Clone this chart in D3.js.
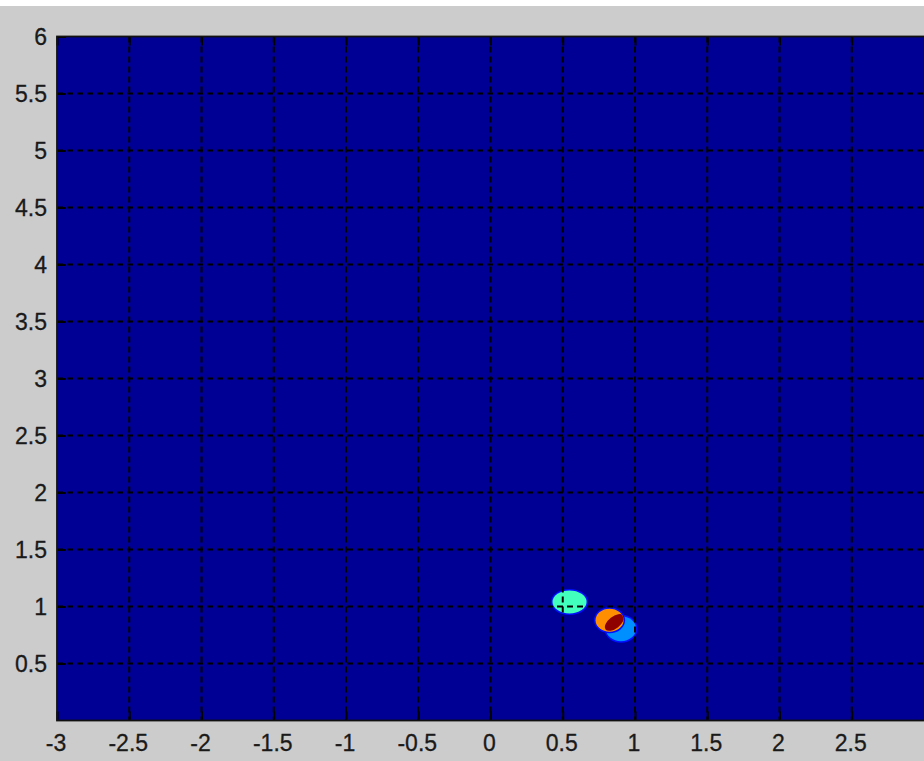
<!DOCTYPE html>
<html>
<head>
<meta charset="utf-8">
<script src="https://cdn.jsdelivr.net/npm/d3@7/dist/d3.min.js"></script>
<style>
  html, body { margin: 0; padding: 0; background: #ffffff; }
  svg { display: block; }
  .tick-label { font-family: "Liberation Sans", Arial, sans-serif; font-size: 23px; fill: #1a1a1a; stroke: #1a1a1a; stroke-width: 0.3px; }
</style>
</head>
<body>
<script>
// Axis limits and tick labels
const xDomain = [-3, 3];
const yDomain = [0, 6];
const xTickValues = [-3, -2.5, -2, -1.5, -1, -0.5, 0, 0.5, 1, 1.5, 2, 2.5];
const yTickValues = [0.5, 1, 1.5, 2, 2.5, 3, 3.5, 4, 4.5, 5, 5.5, 6];
const xGridValues = [-2.5, -2, -1.5, -1, -0.5, 0, 0.5, 1, 1.5, 2, 2.5];
const yGridValues = [0.5, 1, 1.5, 2, 2.5, 3, 3.5, 4, 4.5, 5, 5.5];

// Density blobs: centre, half-widths (data units), tilt and colormap level
const blobX     = [0.547, 0.903, 0.824, 0.858];
const blobY     = [1.040, 0.805, 0.880, 0.860];
const blobRx    = [0.118, 0.104, 0.097, 0.078];
const blobRy    = [0.101, 0.110, 0.101, 0.052];
const blobAngle = [0, 0, 0, -38];
const blobLevel = [0.44, 0.265, 0.735, 0.985];
const backgroundLevel = 0.02;

const W = 924, H = 761;
const margin = { left: 57, top: 36.5, right: 924, bottom: 720.5 };

// MATLAB-style jet colormap
function jet(t) {
  const c = v => Math.max(0, Math.min(1, v));
  const r = c(1.5 - Math.abs(4 * t - 3));
  const g = c(1.5 - Math.abs(4 * t - 2));
  const b = c(1.5 - Math.abs(4 * t - 1));
  return d3.rgb(r * 255, g * 255, b * 255).formatHex();
}

const svg = d3.select("body").append("svg").attr("width", W).attr("height", H);

// figure background
svg.append("rect").attr("width", W).attr("height", H).attr("fill", "#cccccc");
svg.append("rect").attr("width", W).attr("height", 6).attr("fill", "#ffffff");

const x = d3.scaleLinear().domain(xDomain).range([margin.left, margin.right]);
const y = d3.scaleLinear().domain(yDomain).range([margin.bottom, margin.top]);

const plotW = x(xDomain[1]) - x(xDomain[0]);
const plotH = y(yDomain[0]) - y(yDomain[1]);

const defs = svg.append("defs");
defs.append("clipPath").attr("id", "plot-clip")
  .append("rect").attr("x", x(xDomain[0])).attr("y", y(yDomain[1]))
  .attr("width", plotW).attr("height", plotH);

const plot = svg.append("g").attr("clip-path", "url(#plot-clip)");

plot.append("rect")
  .attr("x", x(xDomain[0])).attr("y", y(yDomain[1]))
  .attr("width", plotW).attr("height", plotH)
  .attr("fill", jet(backgroundLevel));

const blobs = d3.range(blobX.length).map(i => ({
  cx: x(blobX[i]), cy: y(blobY[i]),
  rx: x(blobRx[i]) - x(0), ry: y(0) - y(blobRy[i]),
  angle: blobAngle[i], level: blobLevel[i]
}));

// the dark-red core stays inside the orange blob
const outer = blobs[2], core = blobs[3];
defs.append("clipPath").attr("id", "core-clip")
  .append("ellipse")
  .attr("cx", outer.cx).attr("cy", outer.cy).attr("rx", outer.rx).attr("ry", outer.ry);

const blobG = plot.append("g");
blobs.slice(0, 3).forEach(b => {
  const g = blobG.append("g")
    .attr("transform", `translate(${b.cx},${b.cy}) rotate(${b.angle})`);
  // faint rim where the surface climbs out of the background level
  g.append("ellipse").attr("rx", b.rx + 1.5).attr("ry", b.ry + 1.5).attr("fill", jet(0.14));
  g.append("ellipse").attr("rx", b.rx).attr("ry", b.ry).attr("fill", jet(b.level));
});
blobG.append("g").attr("clip-path", "url(#core-clip)")
  .append("ellipse")
  .attr("transform", `translate(${core.cx},${core.cy}) rotate(${core.angle})`)
  .attr("rx", core.rx).attr("ry", core.ry)
  .attr("fill", jet(core.level));

// dashed grid
const grid = plot.append("g").attr("stroke", "#000").attr("stroke-width", 2)
  .attr("stroke-dasharray", "6,4");
grid.selectAll("line.vx").data(xGridValues).join("line")
  .attr("x1", d => x(d)).attr("x2", d => x(d))
  .attr("y1", y(yDomain[1])).attr("y2", y(yDomain[0]));
grid.selectAll("line.hy").data(yGridValues).join("line")
  .attr("x1", x(xDomain[0])).attr("x2", x(xDomain[1]))
  .attr("y1", d => y(d)).attr("y2", d => y(d));

// axes with inward tick marks
const tickLen = 9;
const xAxisBottom = d3.axisBottom(x).tickValues(xTickValues).tickSize(-tickLen)
  .tickFormat(d => String(d));
const xAxisTop = d3.axisTop(x).tickValues(xTickValues).tickSize(-tickLen).tickFormat("");
const yAxisLeft = d3.axisLeft(y).tickValues(yTickValues).tickSize(-tickLen)
  .tickFormat(d => String(d));

function styleAxis(g) {
  g.select(".domain").remove();
  g.selectAll(".tick line").attr("stroke", "#000").attr("stroke-width", 2);
  g.selectAll(".tick text").attr("class", "tick-label").attr("fill", "#1a1a1a");
}

const gxb = svg.append("g").attr("transform", `translate(0,${y(yDomain[0])})`).call(xAxisBottom);
styleAxis(gxb);
gxb.selectAll(".tick text").attr("y", 22).attr("dy", "0.35em").attr("dx", -1.5);

const gxt = svg.append("g").attr("transform", `translate(0,${y(yDomain[1])})`).call(xAxisTop);
styleAxis(gxt);

const gyl = svg.append("g").attr("transform", `translate(${x(xDomain[0])},0)`).call(yAxisLeft);
styleAxis(gyl);
gyl.selectAll(".tick text").attr("x", -10).attr("dy", "0.36em");

// axes box
svg.append("rect")
  .attr("x", x(xDomain[0])).attr("y", y(yDomain[1]))
  .attr("width", plotW).attr("height", plotH)
  .attr("fill", "none").attr("stroke", "#111").attr("stroke-width", 1.8);
</script>
</body>
</html>
